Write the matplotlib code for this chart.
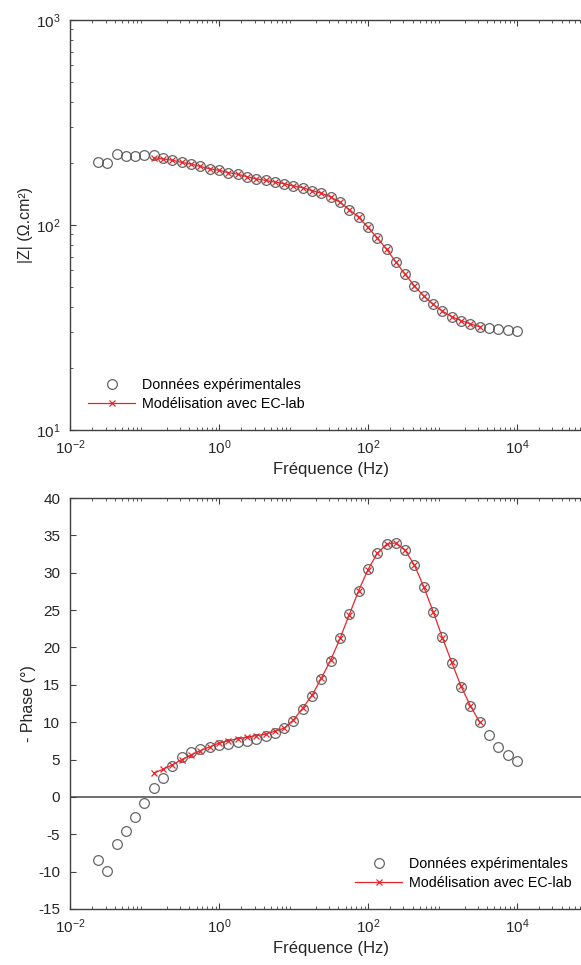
import matplotlib
matplotlib.use("Agg")
import matplotlib.pyplot as plt
from matplotlib.ticker import LogLocator, MultipleLocator

plt.rcParams['font.family'] = ['Liberation Sans', 'DejaVu Sans']
plt.rcParams['mathtext.default'] = 'regular'
plt.rcParams['axes.unicode_minus'] = False

# Frequencies (Hz), ascending
freq = [0.02371, 0.03162, 0.04217, 0.05623, 0.07499, 0.1, 0.1334, 0.1778, 0.2371,
        0.3162, 0.4217, 0.5623, 0.7499, 1.0, 1.334, 1.778, 2.371, 3.162, 4.217,
        5.623, 7.499, 10.0, 13.34, 17.78, 23.71, 31.62, 42.17, 56.23, 74.99, 100.0,
        133.4, 177.8, 237.1, 316.2, 421.7, 562.3, 749.9, 1000.0, 1334.0, 1778.0,
        2371.0, 3162.0, 4217.0, 5623.0, 7499.0, 10000.0]

# Experimental |Z| (Ohm.cm2)
z_exp = [203, 200, 221, 216, 218, 219, 219, 212, 207, 202, 198, 193, 188, 185,
         180, 177, 172, 168, 165, 162, 159, 155, 152, 147, 143, 137, 129, 119,
         109, 97.4, 86.5, 76.1, 66.0, 57.5, 50.4, 45.0, 41.0, 38.0, 35.7, 34.2,
         32.9, 31.9, 31.5, 31.0, 30.7, 30.4]

# Experimental -phase (deg)
ph_exp = [-8.4, -9.9, -6.3, -4.5, -2.7, -0.8, 1.2, 2.5, 4.1, 5.3, 6.0, 6.4, 6.7,
          6.9, 7.1, 7.3, 7.5, 7.8, 8.1, 8.5, 9.2, 10.2, 11.8, 13.5, 15.8, 18.2,
          21.3, 24.5, 27.6, 30.5, 32.6, 33.9, 34.0, 33.0, 31.0, 28.1, 24.8, 21.4,
          17.95, 14.7, 12.2, 10.05, 8.3, 6.7, 5.6, 4.8]

# Model (EC-lab) from 0.1334 Hz to 3162 Hz
freq_fit = freq[6:42]
z_fit = [213, 210, 207, 202, 198, 193, 188, 185, 180, 177, 172, 168, 165, 162,
         159, 155, 152, 147, 143, 137, 129, 119, 109, 97.4, 86.5, 76.1, 66.0,
         57.5, 50.4, 45.0, 41.0, 38.0, 35.7, 34.2, 32.9, 31.9]
ph_fit = [3.2, 3.7, 4.3, 5.0, 5.6, 6.2, 6.7, 7.2, 7.5, 7.8, 8.0, 8.2, 8.4, 8.8,
          9.2, 10.3, 11.9, 13.6, 15.9, 18.3, 21.2, 24.4, 27.6, 30.4, 32.6, 33.8,
          34.0, 33.0, 31.0, 28.1, 24.8, 21.3, 18.0, 14.8, 12.2, 10.0]

lab_exp = "Données expérimentales"
lab_fit = "Modélisation avec EC-lab"
xlabel = "Fréquence (Hz)"

W, H = 581, 965
fig = plt.figure(figsize=(W / 100, H / 100), dpi=100)

axc = '#404040'
txc = '#262626'
L = 70 / W
Wd = (591.4 - 70) / W
ax1 = fig.add_axes([L, 1 - 430 / H, Wd, 410 / H])
ax2 = fig.add_axes([L, 1 - 909 / H, Wd, 411 / H])

circ_kw = dict(linestyle='none', marker='o', markersize=7, markerfacecolor='none',
               markeredgecolor='#4a4a4a', markeredgewidth=0.9, alpha=0.85)
fit_kw = dict(color='#e8262a', linewidth=0.9, marker='x', markersize=4.5,
              markeredgewidth=0.9)

ax1.plot(freq, z_exp, label=lab_exp, **circ_kw)
ax1.plot(freq_fit, z_fit, label=lab_fit, **fit_kw)
ax1.set_xscale('log')
ax1.set_yscale('log')
ax1.set_xlim(1e-2, 1e5)
ax1.set_ylim(10, 1000)
ax1.set_ylabel("|Z| (Ω.cm²)", fontsize=11.5, color=txc, labelpad=2)
ax1.set_xlabel(xlabel, fontsize=12, color=txc, labelpad=4)

ax2.axhline(0, color='#555555', linewidth=1.2, zorder=1)
ax2.plot(freq, ph_exp, label=lab_exp, **circ_kw)
ax2.plot(freq_fit, ph_fit, label=lab_fit, **fit_kw)
ax2.set_xscale('log')
ax2.set_xlim(1e-2, 1e5)
ax2.set_ylim(-15, 40)
ax2.yaxis.set_major_locator(MultipleLocator(5))
ax2.set_ylabel("- Phase (°)", fontsize=11.5, color=txc, labelpad=2)
ax2.set_xlabel(xlabel, fontsize=12, color=txc, labelpad=4)

for ax in (ax1, ax2):
    ax.xaxis.set_minor_locator(LogLocator(base=10, subs=range(2, 10), numticks=20))
    ax.set_xticks([1e-2, 1e0, 1e2, 1e4])
    ax.tick_params(axis='both', which='major', direction='in', length=4,
                   width=0.8, color=axc, labelcolor=txc, labelsize=11,
                   top=True, right=False)
    ax.tick_params(axis='y', which='major', pad=7)
    ax.tick_params(axis='x', which='major', pad=6)
    ax.tick_params(axis='both', which='minor', direction='in', length=2.2,
                   width=0.6, color=axc, top=True, right=False)
    for s in ('left', 'bottom', 'top'):
        ax.spines[s].set_color(axc)
        ax.spines[s].set_linewidth(1.0)
    ax.spines['right'].set_visible(False)

leg_kw = dict(loc='upper left', frameon=False, fontsize=10.3, handlelength=3.3,
              handletextpad=0.5, labelspacing=0.35, borderpad=0, borderaxespad=0,
              bbox_transform=fig.transFigure)
ax1.legend(bbox_to_anchor=(88 / W, 1 - 378 / H), **leg_kw)
ax2.legend(bbox_to_anchor=(355 / W, 1 - 857 / H), **leg_kw)

fig.savefig('out.png', dpi=100)
